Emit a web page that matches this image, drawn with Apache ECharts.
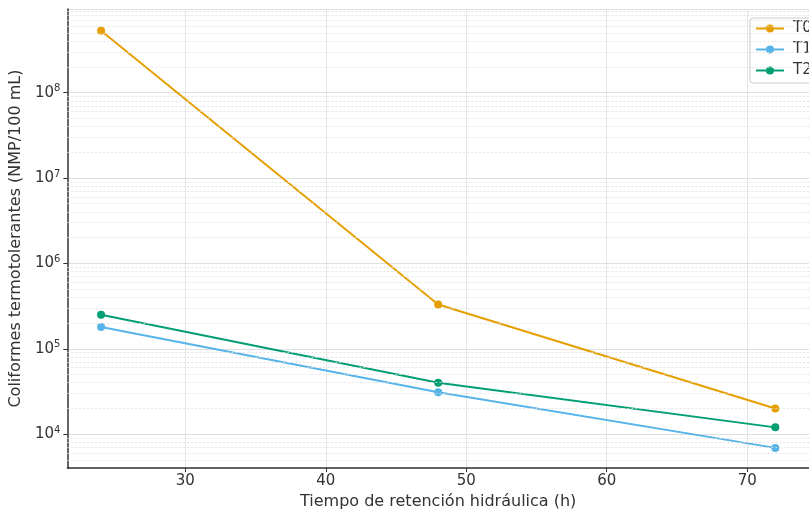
<!DOCTYPE html>
<html>
<head>
<meta charset="utf-8">
<script src="https://cdn.jsdelivr.net/npm/echarts@6/dist/echarts.min.js"></script>
<style>html,body{margin:0;padding:0;background:#fff;}#c{width:809px;height:515px;}</style>
</head>
<body>
<div id="c"></div>
<script>
// Data
const hours = [24, 48, 72];
const seriesNames = ['T0', 'T1', 'T2'];
const t0 = [5.3e8, 3.3e5, 2.0e4];
const t1 = [1.8e5, 3.1e4, 6.9e3];
const t2 = [2.5e5, 4.0e4, 1.2e4];
const xTickLabels = [30, 40, 50, 60, 70];
const minorMultipliers = [2, 3, 4, 5, 6, 7, 8, 9];
const minorDecades = [3, 4, 5, 6, 7, 8];

const colors = ['#E69F00', '#56B4E9', '#009E73'];
const yMin = 4000, yMax = 9.55e8;

const minorValues = [];
minorDecades.forEach(d => minorMultipliers.forEach(m => {
  const v = m * Math.pow(10, d);
  if (v > yMin && v < yMax) minorValues.push(v);
}));

const font = 'DejaVu Sans';
const chart = echarts.init(document.getElementById('c'), null, {renderer: 'canvas'});

function mkSeries(name, vals, i) {
  const s = {
    name: name,
    type: 'line',
    data: hours.map((h, k) => [h, vals[k]]),
    symbol: 'circle',
    symbolSize: 8,
    lineStyle: {width: 2, color: colors[i]},
    itemStyle: {color: colors[i], borderWidth: 0},
    z: 3
  };
  if (i === 0) {
    s.markLine = {
      silent: true,
      symbol: ['none', 'none'],
      label: {show: false},
      animation: false,
      lineStyle: {color: '#dedede', type: [2, 2], width: 0.8},
      emphasis: {disabled: true},
      data: minorValues.map(v => ({yAxis: v}))
    };
  }
  return s;
}

chart.setOption({
  animation: false,
  textStyle: {fontFamily: font},
  grid: {left: 67, top: 9, bottom: 45, right: -17, containLabel: false},
  legend: {
    orient: 'vertical',
    left: 750, top: 18,
    padding: [3, 12, 5, 5],
    itemGap: 6,
    itemWidth: 28, itemHeight: 10,
    borderColor: '#cccccc', borderWidth: 1, borderRadius: 3,
    backgroundColor: '#ffffff',
    textStyle: {fontSize: 15, color: '#333', fontFamily: font, padding: [0, 0, 0, 4]},
    data: seriesNames
  },
  xAxis: {
    type: 'value',
    min: 21.6, max: 74.4,
    name: 'Tiempo de retención hidráulica (h)',
    nameLocation: 'middle',
    nameGap: 23,
    nameTextStyle: {fontSize: 16, color: '#333', fontFamily: font, verticalAlign: 'top'},
    axisLine: {show: true, lineStyle: {color: '#333', width: 1.5}},
    axisTick: {show: true, length: 4, inside: false, lineStyle: {color: '#333'}, customValues: xTickLabels},
    axisLabel: {show: true, margin: 6, fontSize: 15, color: '#333', fontFamily: font, customValues: xTickLabels},
    splitLine: {show: true, lineStyle: {color: '#e0e0e0', width: 0.8}}
  },
  yAxis: {
    type: 'log',
    logBase: 10,
    min: yMin, max: yMax,
    name: 'Coliformes termotolerantes (NMP/100 mL)',
    nameLocation: 'middle',
    nameGap: 39,
    nameTextStyle: {fontSize: 16, color: '#333', fontFamily: font},
    axisLine: {show: true, lineStyle: {color: '#333', width: 1.5}},
    axisTick: {show: true, length: 4, lineStyle: {color: '#333'}},
    axisLabel: {
      show: true, margin: 7, showMinLabel: false, showMaxLabel: false,
      formatter: v => '{b|10}{s|' + Math.round(Math.log10(v)) + '}',
      rich: {
        b: {fontSize: 15, color: '#333', fontFamily: font},
        s: {fontSize: 10, color: '#333', fontFamily: font, padding: [0, 0, 8, 0]}
      }
    },
    splitLine: {show: true, lineStyle: {color: '#d8d8d8', width: 0.8}}
  },
  series: [mkSeries('T0', t0, 0), mkSeries('T1', t1, 1), mkSeries('T2', t2, 2)]
});
</script>
</body>
</html>
